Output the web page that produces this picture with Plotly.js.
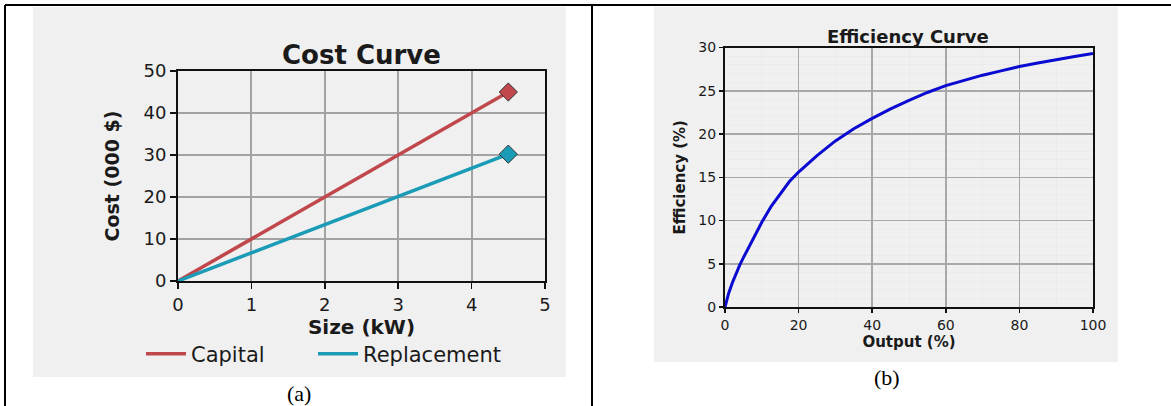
<!DOCTYPE html>
<html>
<head>
<meta charset="utf-8">
<script src="https://cdn.plot.ly/plotly-3.0.1.min.js"></script>
<style>
  html, body { margin: 0; padding: 0; background: #ffffff; }
  #chart { width: 1171px; height: 406px; }
</style>
</head>
<body>
<div id="chart"></div>
<script>
// ---- Data (a) Cost Curve ----
const sizeKW = [0, 1, 2, 3, 4, 4.5];
const capitalCost = [0, 10, 20, 30, 40, 45];
const replacementCost = [0, 6.7, 13.4, 20.1, 26.8, 30.2];
const costSeriesNames = ['Capital', 'Replacement'];

// ---- Data (b) Efficiency Curve ----
const outputPct = [0, 1, 2, 3, 4, 5, 7.5, 10, 12.5, 15, 17.5, 20, 25, 30, 35, 40, 45, 50, 55, 60, 65, 70, 75, 80, 85, 90, 95, 100];
const efficiencyPct = [0, 1.6, 2.8, 3.9, 4.85, 5.7, 7.8, 9.8, 11.6, 13.1, 14.5, 15.6, 17.5, 19.2, 20.6, 21.8, 22.9, 23.9, 24.8, 25.6, 26.2, 26.8, 27.3, 27.8, 28.2, 28.6, 28.95, 29.3];

// ---- Labels ----
const costTitle = 'Cost Curve';
const effTitle = 'Efficiency Curve';
const costXTitle = 'Size (kW)';
const costYTitle = 'Cost (000 $)';
const effXTitle = 'Output (%)';
const effYTitle = 'Efficiency (%)';
const captions = ['(a)', '(b)'];

// ---- helpers for pixel -> paper ----
const W = 1171, H = 406;
const px = x => x / W;
const py = y => 1 - y / H;

const capColor = '#c0474c';
const repColor = '#1a9bb6';
const effColor = '#0a0ad0';
const last = arr => arr[arr.length - 1];

const traces = [
  { x: sizeKW, y: capitalCost, name: costSeriesNames[0], mode: 'lines', xaxis: 'x', yaxis: 'y',
    legend: 'legend', line: { color: capColor, width: 3.5 } },
  { x: sizeKW, y: replacementCost, name: costSeriesNames[1], mode: 'lines', xaxis: 'x', yaxis: 'y',
    legend: 'legend2', line: { color: repColor, width: 3.5 } },
  { x: [last(sizeKW)], y: [last(capitalCost)], mode: 'markers', showlegend: false, xaxis: 'x', yaxis: 'y',
    marker: { symbol: 'diamond', size: 14, color: capColor, line: { color: '#333', width: 1 } }, cliponaxis: false },
  { x: [last(sizeKW)], y: [last(replacementCost)], mode: 'markers', showlegend: false, xaxis: 'x', yaxis: 'y',
    marker: { symbol: 'diamond', size: 14, color: repColor, line: { color: '#333', width: 1 } }, cliponaxis: false },
  { x: outputPct, y: efficiencyPct, mode: 'lines', showlegend: false, xaxis: 'x2', yaxis: 'y2',
    line: { color: effColor, width: 3 }, cliponaxis: false }
];

const axisCommon = {
  showline: true, linecolor: '#111', linewidth: 2, mirror: true,
  ticks: 'outside', tickcolor: '#111', tickwidth: 1.5,
  zeroline: false, fixedrange: true, showgrid: true
};

const legendCommon = {
  orientation: 'h', xanchor: 'left', y: py(354), yanchor: 'middle',
  font: { size: 21, color: '#1a1a1a' }, bgcolor: 'rgba(0,0,0,0)', itemwidth: 40
};

const layout = {
  width: W, height: H,
  margin: { l: 0, r: 0, t: 0, b: 0 },
  paper_bgcolor: '#ffffff',
  plot_bgcolor: '#ffffff',
  font: { family: 'DejaVu Sans, Verdana, sans-serif', color: '#1a1a1a' },
  showlegend: true,
  legend: Object.assign({}, legendCommon, { x: px(141) }),
  legend2: Object.assign({}, legendCommon, { x: px(313) }),
  xaxis: Object.assign({}, axisCommon, {
    domain: [px(178), px(545)], range: [0, 5], tick0: 0, dtick: 1, anchor: 'y',
    gridcolor: '#a3a3a3', gridwidth: 2, ticklen: 6,
    tickfont: { size: 18, color: '#1a1a1a' },
    title: { text: costXTitle, font: { size: 20, weight: 'bold', color: '#1a1a1a' }, standoff: 5 }
  }),
  yaxis: Object.assign({}, axisCommon, {
    domain: [py(281), py(71)], range: [0, 50], tick0: 0, dtick: 10, anchor: 'x',
    gridcolor: '#a3a3a3', gridwidth: 2, ticklen: 6,
    tickfont: { size: 18, color: '#1a1a1a' },
    title: { text: costYTitle, font: { size: 19, weight: 'bold', color: '#1a1a1a' }, standoff: 19 }
  }),
  xaxis2: Object.assign({}, axisCommon, {
    domain: [px(725), px(1093)], range: [0, 100], tick0: 0, dtick: 20, anchor: 'y2',
    gridcolor: '#a8a8a8', gridwidth: 1.5, ticklen: 4,
    minor: { dtick: 10, showgrid: true, gridcolor: '#ebebeb', gridwidth: 1 },
    tickfont: { size: 14, color: '#1a1a1a' },
    title: { text: effXTitle, font: { size: 15, weight: 'bold', color: '#1a1a1a' }, standoff: 0 }
  }),
  yaxis2: Object.assign({}, axisCommon, {
    domain: [py(307), py(47.5)], range: [0, 30], tick0: 0, dtick: 5, anchor: 'x2',
    gridcolor: '#a8a8a8', gridwidth: 1.5, ticklen: 4,
    minor: { dtick: 1, showgrid: true, gridcolor: '#ebebeb', gridwidth: 1 },
    tickfont: { size: 14, color: '#1a1a1a' },
    title: { text: effYTitle, font: { size: 15, weight: 'bold', color: '#1a1a1a' }, standoff: 9 }
  }),
  shapes: [
    // gray panel backgrounds
    { type: 'rect', xref: 'paper', yref: 'paper', layer: 'below', x0: px(33), x1: px(566), y0: py(377), y1: py(7),
      fillcolor: '#f0f0f0', line: { width: 0 } },
    { type: 'rect', xref: 'paper', yref: 'paper', layer: 'below', x0: px(654), x1: px(1118), y0: py(362), y1: py(7),
      fillcolor: '#f0f0f0', line: { width: 0 } },
    // table borders
    { type: 'line', xref: 'paper', yref: 'paper', x0: px(5), x1: px(1171), y0: py(5), y1: py(5), line: { color: '#000', width: 2 } },
    { type: 'line', xref: 'paper', yref: 'paper', x0: px(5), x1: px(5), y0: py(5), y1: py(406), line: { color: '#000', width: 2 } },
    { type: 'line', xref: 'paper', yref: 'paper', x0: px(592), x1: px(592), y0: py(5), y1: py(406), line: { color: '#000', width: 2 } }
  ],
  annotations: [
    { text: '<b>' + costTitle + '</b>', xref: 'paper', yref: 'paper', x: px(361), y: py(55), xanchor: 'center', yanchor: 'middle',
      showarrow: false, font: { size: 26, color: '#1a1a1a' } },
    { text: '<b>' + effTitle + '</b>', xref: 'paper', yref: 'paper', x: px(908), y: py(37), xanchor: 'center', yanchor: 'middle',
      showarrow: false, font: { size: 18, color: '#1a1a1a' } },
    { text: captions[0], xref: 'paper', yref: 'paper', x: px(299), y: py(393), xanchor: 'center', yanchor: 'middle',
      showarrow: false, font: { size: 22, color: '#000', family: 'Liberation Serif, Times New Roman, serif' } },
    { text: captions[1], xref: 'paper', yref: 'paper', x: px(887), y: py(377), xanchor: 'center', yanchor: 'middle',
      showarrow: false, font: { size: 22, color: '#000', family: 'Liberation Serif, Times New Roman, serif' } }
  ]
};

Plotly.newPlot('chart', traces, layout, { displayModeBar: false, staticPlot: true });
</script>
</body>
</html>
